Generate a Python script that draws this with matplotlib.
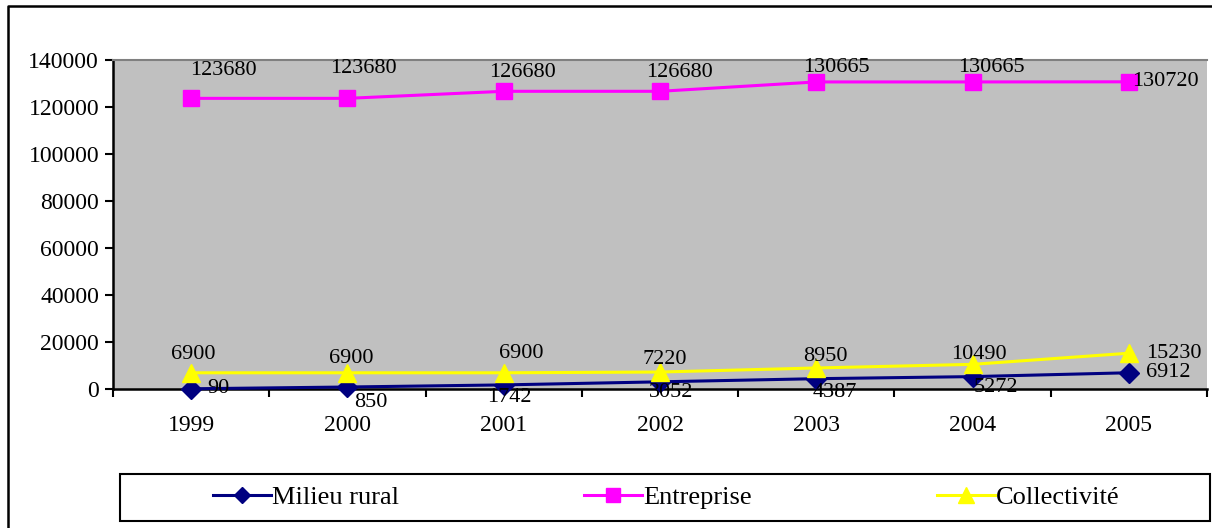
import matplotlib.pyplot as plt
from matplotlib.lines import Line2D
from matplotlib.patches import Rectangle
import numpy as np

plt.rcParams['font.family'] = ['Liberation Serif', 'DejaVu Serif']

# data
years = ['1999', '2000', '2001', '2002', '2003', '2004', '2005']
milieu_rural = [90, 850, 1742, 3052, 4387, 5272, 6912]
entreprise = [123680, 123680, 126680, 126680, 130665, 130665, 130720]
collectivite = [6900, 6900, 6900, 7220, 8950, 10490, 15230]
series_names = ['Milieu rural', 'Entreprise', 'Collectivité']

# label offsets in pixels (dx, dy)
off_rural = [(27, 0), (23, -15), (6, -13), (11, -11), (19, -14), (23, -11), (39, 0)]
off_entr = [(32, 28), (16, 30), (19, 19), (19, 19), (20, 14), (19, 14), (37, 0)]
off_coll = [(2, 18), (4, 14), (18, 19), (5, 13), (9, 11), (6, 10), (45, 0)]

fig = plt.figure(figsize=(12.12, 5.28), dpi=100)
W, H = 1212, 528
ax = fig.add_axes([113 / W, 1 - 389 / H, (1207 - 113) / W, (389 - 60) / H])
ax.set_facecolor('#C0C0C0')

x = np.arange(len(years))
l1, = ax.plot(x, milieu_rural, color='#000080', marker='D', markersize=10, lw=2.2,
              label=series_names[0], clip_on=False, zorder=3)
l2, = ax.plot(x, entreprise, color='#FF00FF', marker='s', markersize=11.5, lw=2.2,
              label=series_names[1], clip_on=False, zorder=3)
l3, = ax.plot(x, collectivite, color='#FFFF00', marker='^', markersize=13, lw=2.2,
              label=series_names[2], clip_on=False, zorder=3)

for vals, offs in [(milieu_rural, off_rural), (entreprise, off_entr), (collectivite, off_coll)]:
    for i, v in enumerate(vals):
        ax.annotate(str(v), (x[i], v), xytext=offs[i], textcoords='offset pixels',
                    ha='center', va='center', fontsize=16, zorder=4)

ax.set_xlim(-0.5, len(years) - 0.5)
ax.set_ylim(0, 140000)
ax.set_yticks(np.arange(0, 140001, 20000))
ax.set_xticks(x)
ax.set_xticklabels(years)
ax.set_xticks(np.arange(-0.5, len(years)), minor=True)
ax.tick_params(axis='x', which='major', length=0, pad=19, labelsize=17)
ax.tick_params(axis='x', which='minor', length=6, width=1.5, direction='out')
ax.tick_params(axis='y', length=6, width=1.5, direction='out', labelsize=17, pad=4)

for s in ['left', 'bottom']:
    ax.spines[s].set_linewidth(1.8)
    ax.spines[s].set_color('black')
ax.spines['top'].set_color('#808080')
ax.spines['top'].set_linewidth(1.5)
ax.spines['right'].set_visible(False)

# outer chart border
fig.add_artist(Line2D([8 / W, 8 / W, 1.0], [0.0, 1 - 6 / H, 1 - 6 / H],
                      transform=fig.transFigure, color='black', lw=1.8))

# legend box
fig.add_artist(Rectangle((120 / W, 1 - 521 / H), (1210 - 120) / W, (521 - 474) / H,
                         transform=fig.transFigure, fill=False, edgecolor='black', lw=1.5))
fig.legend(handles=[l1, l2, l3], loc='center left', bbox_to_anchor=(213 / W, 1 - 497 / H),
           ncol=3, frameon=False, fontsize=19, handlelength=2.2, handletextpad=0.05,
           columnspacing=7.0, borderpad=0, borderaxespad=0, markerscale=0.85)

fig.savefig('out.png', dpi=100)
